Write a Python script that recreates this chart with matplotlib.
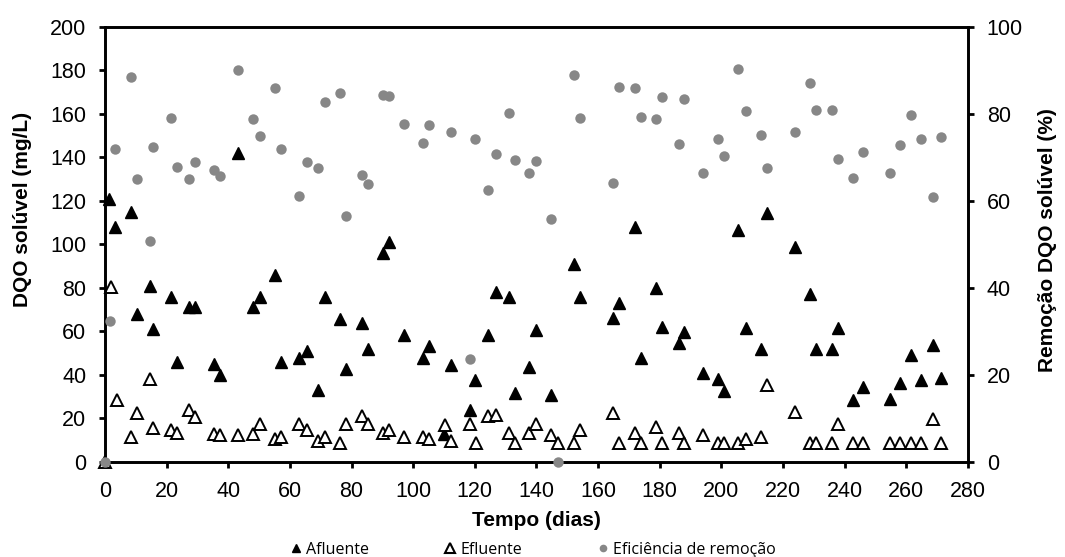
import matplotlib
matplotlib.use("Agg")
import matplotlib.pyplot as plt
from matplotlib.lines import Line2D

# Afluente: DQO solúvel de entrada (mg/L)
afluente_dias = [1.4, 3.4, 8.3, 10.4, 14.6, 15.5, 21.3, 23.4, 27.2, 29.3,
                 35.4, 37.3, 43.3, 48.1, 50.3, 55.2, 57.2, 63.0, 65.4, 69.1,
                 71.3, 76.2, 78.1, 83.3, 85.3, 90.3, 92.2, 97.0, 103.3, 105.2,
                 110.0, 112.1, 118.4, 120.2, 124.2, 127.0, 131.0, 132.9, 137.6, 140.0,
                 144.8, 152.1, 154.1, 164.9, 166.8, 172.0, 174.0, 178.9, 180.7, 186.1,
                 188.0, 193.9, 198.8, 200.8, 205.4, 207.9, 212.7, 214.8, 223.9, 228.7,
                 230.8, 235.8, 237.9, 242.8, 245.8, 254.8, 257.9, 261.6, 264.7, 268.5,
                 271.4]
afluente_dqo = [121, 108, 115, 67.8, 80.9, 61, 75.8, 46, 71, 71,
                44.8, 40, 142, 71, 75.8, 85.8, 46, 48, 50.8, 33,
                75.8, 65.9, 42.9, 64, 52, 96, 101, 58.2, 48, 53.1,
                13, 44.4, 24, 37.8, 58.2, 78.1, 75.8, 31.8, 43.6, 60.8,
                31, 90.8, 75.8, 66.2, 73, 108, 48, 80, 62, 54.8,
                59.7, 41, 38, 32.6, 106.8, 61.7, 52, 114.2, 98.8, 77,
                52, 52, 61.7, 28.3, 34.4, 29, 36.3, 49.3, 37.5, 53.6,
                38.6]

# Efluente: DQO solúvel de saída (mg/L)
efluente_dias = [0, 1.8, 3.8, 8.3, 10.4, 14.6, 15.5, 21.3, 23.4, 27.2,
                 29.3, 35.4, 37.3, 43.3, 48.1, 50.3, 55.2, 57.2, 63.0, 65.4,
                 69.1, 71.3, 76.2, 78.1, 83.3, 85.3, 90.3, 92.2, 97.0, 103.3,
                 105.2, 110.4, 112.4, 118.4, 120.5, 124.2, 127.0, 131.0, 132.9, 137.6,
                 140.0, 144.8, 147.1, 152.1, 154.1, 164.9, 166.8, 172.0, 174.0, 178.9,
                 180.7, 186.1, 188.0, 193.9, 198.8, 200.8, 205.4, 207.9, 212.7, 214.8,
                 223.9, 228.7, 230.8, 235.8, 237.9, 242.8, 245.8, 254.8, 257.9, 261.6,
                 264.7, 268.5, 271.4]
efluente_dqo = [0, 80.4, 28.6, 11.4, 22.4, 38.3, 15.7, 14.8, 13.3, 23.7,
                20.6, 13, 12.2, 12.2, 13, 17.6, 10.7, 11.4, 17.6, 14.8,
                9.6, 11.4, 8.7, 17.6, 20.9, 17.6, 13.3, 14.8, 11.4, 11.4,
                10.7, 16.8, 9.6, 17.6, 8.7, 20.9, 21.8, 13.3, 8.7, 13.3,
                17.6, 12.2, 8.7, 8.7, 14.8, 22.4, 8.7, 13.3, 8.7, 16,
                8.7, 13.3, 8.7, 12.6, 8.7, 8.7, 8.7, 10.7, 11.4, 35.6,
                22.9, 8.7, 8.7, 8.7, 17.6, 8.7, 8.7, 8.7, 8.7, 8.7,
                8.7, 19.6, 8.7]

# Eficiência de remoção da DQO solúvel (%)
remocao_dias = [0, 1.6, 3.4, 8.3, 10.4, 14.6, 15.5, 21.3, 23.4, 27.2,
                29.3, 35.4, 37.3, 43.3, 48.1, 50.3, 55.2, 57.2, 63.0, 65.4,
                69.1, 71.3, 76.2, 78.1, 83.3, 85.3, 90.3, 92.2, 97.0, 103.3,
                105.2, 112.1, 118.4, 120.2, 124.2, 127.0, 131.0, 132.9, 137.6, 140.0,
                144.8, 147.0, 152.1, 154.1, 164.9, 166.8, 172.0, 174.0, 178.9, 180.7,
                186.1, 188.0, 193.9, 198.8, 200.8, 205.4, 207.9, 212.7, 214.8, 223.9,
                228.7, 230.8, 235.8, 237.9, 242.8, 245.8, 254.8, 257.9, 261.6, 264.7,
                268.5, 271.4]
remocao_pct = [0, 32.5, 72, 88.5, 65, 50.8, 72.4, 79, 67.7, 65,
               69, 67, 65.7, 90, 78.8, 75, 86, 72, 61, 69,
               67.5, 82.8, 84.8, 56.6, 65.9, 63.8, 84.4, 84, 77.6, 73.2,
               77.4, 75.8, 23.6, 74.2, 62.4, 70.7, 80.2, 69.3, 66.4, 69.1,
               55.9, 0, 88.9, 79.1, 64, 86.2, 86, 79.3, 78.8, 83.9,
               73, 83.4, 66.4, 74.2, 70.3, 90.3, 80.7, 75.1, 67.5, 75.8,
               87, 80.8, 80.8, 69.6, 65.2, 71.2, 66.4, 72.8, 79.8, 74.2,
               60.8, 74.7]

x_ticks = list(range(0, 281, 20))
y_ticks = list(range(0, 201, 20))
y2_ticks = list(range(0, 101, 20))

legend_labels = ["Afluente", "Efluente", "Eficiência de remoção"]

plt.rcParams['font.family'] = ['Liberation Sans', 'DejaVu Sans']

GRAY = '#878787'
SPINE_W = 1.9

fig = plt.figure(figsize=(10.65, 5.57), dpi=100)
ax = fig.add_axes([0.0986, 0.1706, 0.8103, 0.7814])

ax.plot(afluente_dias, afluente_dqo, linestyle='none', marker='^', ms=8.5,
        color='black', clip_on=False, zorder=3)
ax.plot(efluente_dias, efluente_dqo, linestyle='none', marker='^', ms=8.5,
        mfc='white', mec='black', mew=1.4, clip_on=False, zorder=3)

ax.set_xlim(0, 280)
ax.set_ylim(0, 200)
ax.set_xticks(x_ticks)
ax.set_yticks(y_ticks)
ax.tick_params(axis='both', direction='out', length=4.5, width=2,
               labelsize=15.5, colors='black')
ax.tick_params(axis='y', pad=9)
ax.tick_params(axis='x', pad=9)

ax2 = ax.twinx()
ax2.plot(remocao_dias, remocao_pct, linestyle='none', marker='o', ms=7.5,
         color=GRAY, mec='none', clip_on=False, zorder=4)
ax2.set_ylim(0, 100)
ax2.set_yticks(y2_ticks)
ax2.tick_params(axis='y', direction='out', length=4.5, width=2,
                labelsize=15.5, pad=9)

for a in (ax, ax2):
    for s in a.spines.values():
        s.set_linewidth(SPINE_W)
        s.set_color('black')

ax.set_xlabel('Tempo (dias)', fontsize=15, fontweight='bold')
ax.xaxis.set_label_coords(0.5, -0.113)
ax.set_ylabel('DQO solúvel (mg/L)', fontsize=15, fontweight='bold')
ax.yaxis.set_label_coords(-0.085, 0.58)
ax2.set_ylabel('Remoção DQO solúvel (%)', fontsize=15, fontweight='bold')
ax2.yaxis.set_label_coords(1.081, 0.51)

handles = [
    Line2D([], [], linestyle='none', marker='^', ms=5.5, color='black'),
    Line2D([], [], linestyle='none', marker='^', ms=7, mfc='white',
           mec='black', mew=1.5),
    Line2D([], [], linestyle='none', marker='o', ms=5.5, color=GRAY,
           mec='none'),
]
fig.legend(handles, legend_labels, loc='center', bbox_to_anchor=(0.501, 0.0126),
           ncol=3, frameon=False, prop={'family': 'Open Sans', 'size': 11.5},
           handlelength=0.6, handletextpad=0.3, columnspacing=4.8,
           borderpad=0, borderaxespad=0)

fig.savefig('out.png', dpi=100)
